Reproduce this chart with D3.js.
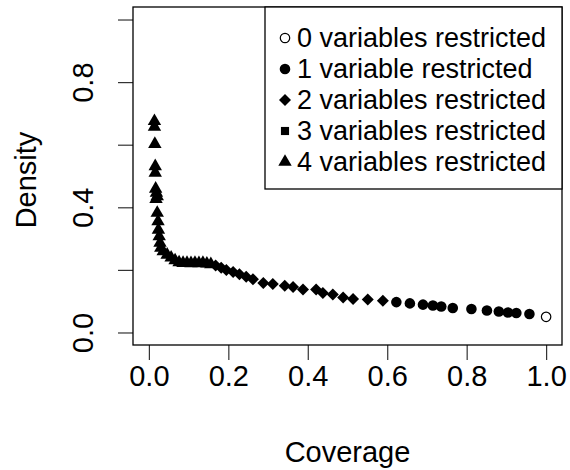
<!DOCTYPE html>
<html>
<head>
<meta charset="utf-8">
<script src="https://cdn.jsdelivr.net/npm/d3@7"></script>
<style>
  html, body { margin: 0; padding: 0; background: #fff; }
  svg { display: block; }
  text { font-family: "Liberation Sans", Arial, sans-serif; fill: #000; }
</style>
</head>
<body>
<svg id="chart" width="570" height="470"></svg>
<script>
// ---- data ----
const xTicks = [0.0, 0.2, 0.4, 0.6, 0.8, 1.0];
const yTicks = [0.0, 0.2, 0.4, 0.6, 0.8, 1.0];
const yTickLabels = ["0.0", "", "0.4", "", "0.8", ""];

// 4 variables restricted (triangles)
const cov4 = [0.014, 0.014, 0.015, 0.016, 0.016, 0.017, 0.019, 0.021, 0.018, 0.021, 0.023, 0.024, 0.026, 0.028, 0.030, 0.036, 0.046, 0.056, 0.066, 0.076, 0.086, 0.096, 0.106, 0.116, 0.126, 0.136, 0.146, 0.156];
const den4 = [0.675, 0.657, 0.602, 0.531, 0.510, 0.459, 0.446, 0.435, 0.426, 0.382, 0.355, 0.328, 0.307, 0.286, 0.270, 0.259, 0.248, 0.239, 0.230, 0.224, 0.222, 0.222, 0.221, 0.222, 0.221, 0.222, 0.220, 0.218];

// 3 variables restricted (squares) - none visible
const cov3 = [];
const den3 = [];

// 2 variables restricted (diamonds)
const cov2 = [0.168, 0.182, 0.195, 0.212, 0.228, 0.245, 0.262, 0.288, 0.312, 0.342, 0.363, 0.388, 0.421, 0.438, 0.463, 0.489, 0.514, 0.551, 0.589];
const den2 = [0.214, 0.207, 0.200, 0.193, 0.186, 0.178, 0.170, 0.158, 0.155, 0.149, 0.145, 0.137, 0.137, 0.126, 0.121, 0.112, 0.107, 0.105, 0.101];

// 1 variable restricted (filled circles)
const cov1 = [0.623, 0.657, 0.690, 0.715, 0.736, 0.765, 0.812, 0.851, 0.881, 0.904, 0.925, 0.958];
const den1 = [0.097, 0.093, 0.089, 0.086, 0.083, 0.078, 0.075, 0.070, 0.067, 0.064, 0.062, 0.059];

// 0 variables restricted (open circle)
const cov0 = [1.0];
const den0 = [0.05];

const legendLabels = ["0 variables restricted", "1 variable restricted", "2 variables restricted", "3 variables restricted", "4 variables restricted"];

// ---- layout ----
const svg = d3.select("#chart");
const box = {left: 133, right: 562, top: 7, bottom: 345};
const x = d3.scaleLinear().domain([-0.04, 1.04]).range([box.left, box.right]);
const y = d3.scaleLinear().domain([-0.04, 1.04]).range([box.bottom, box.top]);

// symbols
const sym = {
  open:    {type: d3.symbolCircle, size: 70, fill: "#fff", stroke: "#000", sw: 1.2, rot: 0},
  circle:  {type: d3.symbolCircle, size: 88, fill: "#000", stroke: "none", sw: 0, rot: 0},
  diamond: {type: d3.symbolSquare, size: 72, fill: "#000", stroke: "none", sw: 0, rot: 45},
  square:  {type: d3.symbolSquare, size: 66, fill: "#000", stroke: "none", sw: 0, rot: 0},
  tri:     {type: d3.symbolTriangle, size: 78, fill: "#000", stroke: "none", sw: 0, rot: 0}
};
const legendSyms = ["open", "circle", "diamond", "square", "tri"];

function drawPoints(cs, ds, key) {
  const s = sym[key];
  const pts = cs.map((c, i) => ({c, d: ds[i]}));
  svg.append("g").selectAll("path").data(pts).join("path")
    .attr("d", d3.symbol().type(s.type).size(s.size))
    .attr("transform", p => `translate(${x(p.c)},${y(p.d)}) rotate(${s.rot})`)
    .attr("fill", s.fill).attr("stroke", s.stroke).attr("stroke-width", s.sw);
}

// x axis (ticks below the box)
const xAxis = svg.append("g").attr("transform", `translate(0,${box.bottom})`)
  .call(d3.axisBottom(x).tickValues(xTicks).tickFormat(d3.format(".1f")).tickSize(15).tickPadding(5));
xAxis.select(".domain").remove();
xAxis.selectAll(".tick line").attr("stroke", "#333").attr("stroke-width", 1.2);
xAxis.selectAll(".tick text").attr("font-size", 29).attr("fill", "#000")
  .attr("font-family", "Liberation Sans, Arial, sans-serif");

// y axis
const yAxis = svg.append("g").attr("transform", `translate(${box.left},0)`)
  .call(d3.axisLeft(y).tickValues(yTicks).tickFormat((d, i) => yTickLabels[i]).tickSize(15).tickPadding(0));
yAxis.select(".domain").remove();
yAxis.selectAll(".tick line").attr("stroke", "#333").attr("stroke-width", 1.2);
yAxis.selectAll(".tick text")
  .attr("font-size", 29).attr("fill", "#000")
  .attr("font-family", "Liberation Sans, Arial, sans-serif")
  .attr("text-anchor", "middle").attr("x", null).attr("dy", null)
  .attr("transform", `translate(-40,0) rotate(-90)`)
  .attr("y", 0);

// plot box
svg.append("rect").attr("x", box.left).attr("y", box.top)
  .attr("width", box.right - box.left).attr("height", box.bottom - box.top)
  .attr("fill", "none").attr("stroke", "#000").attr("stroke-width", 1.3);

// axis titles
svg.append("text").attr("x", (box.left + box.right) / 2).attr("y", 462)
  .attr("text-anchor", "middle").attr("font-size", 29).text("Coverage");
svg.append("text").attr("transform", `translate(36,${(box.top + box.bottom) / 2 + 4}) rotate(-90)`)
  .attr("text-anchor", "middle").attr("font-size", 29).text("Density");

// points
drawPoints(cov4, den4, "tri");
drawPoints(cov3, den3, "square");
drawPoints(cov2, den2, "diamond");
drawPoints(cov1, den1, "circle");
drawPoints(cov0, den0, "open");

// legend
const lg = {left: 265, top: 7, right: 562, bottom: 189, row0: 38, step: 31, symX: 285, textX: 297};
svg.append("rect").attr("x", lg.left).attr("y", lg.top)
  .attr("width", lg.right - lg.left).attr("height", lg.bottom - lg.top)
  .attr("fill", "#fff").attr("stroke", "#000").attr("stroke-width", 1.3);
legendLabels.forEach((lab, i) => {
  const s = sym[legendSyms[i]];
  const cy = lg.row0 + i * lg.step;
  svg.append("path")
    .attr("d", d3.symbol().type(s.type).size(s.size)())
    .attr("transform", `translate(${lg.symX},${cy}) rotate(${s.rot})`)
    .attr("fill", s.fill).attr("stroke", s.stroke).attr("stroke-width", s.sw);
  svg.append("text").attr("x", lg.textX).attr("y", cy + 9)
    .attr("font-size", 27).text(lab);
});
</script>
</body>
</html>
